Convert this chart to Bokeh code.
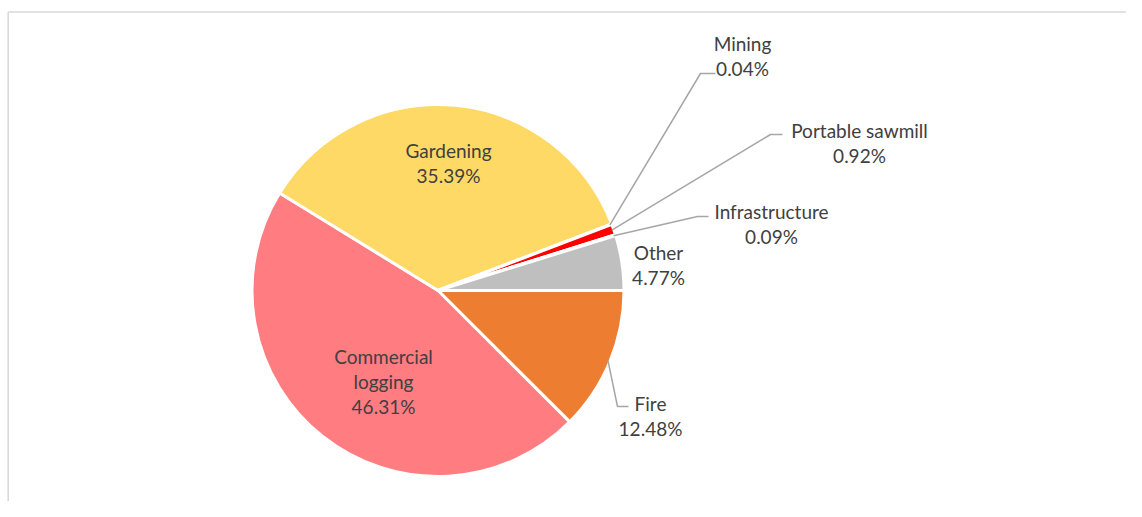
import math
from bokeh.plotting import figure
from bokeh.models import Range1d, ColumnDataSource
from bokeh.core.properties import value
from bokeh.embed import file_html
from bokeh.resources import INLINE

# ---- data (clockwise from 3 o'clock) ----
categories = ["Fire", "Commercial logging", "Gardening", "Mining",
              "Portable sawmill", "Infrastructure", "Other"]
shares = [12.48, 46.31, 35.39, 0.04, 0.92, 0.09, 4.77]
colors = ["#ED7D31", "#FF7C80", "#FFD966", "#5B9BD5", "#FF0000", "#70AD47", "#BFBFBF"]
label_lines = [["Fire"], ["Commercial", "logging"], ["Gardening"], ["Mining"],
               ["Portable sawmill"], ["Infrastructure"], ["Other"]]

W, H = 1126, 501
FONT = "Lato"
FS = "19px"
TXT = "#404040"
LEADER = "#A6A6A6"

def px(X):   # image x -> data x
    return X

def py(Y):   # image y -> data y
    return H - Y

p = figure(width=W, height=H, output_backend="svg", toolbar_location=None,
           x_range=Range1d(0, W), y_range=Range1d(0, H), min_border=0,
           x_axis_location=None, y_axis_location=None)
p.grid.visible = False
p.outline_line_color = None
p.background_fill_color = "white"
p.border_fill_color = "white"

# chart-area border (top and left edges visible)
p.line(x=[7.7, 7.7], y=[py(11.5), -5], line_color="#D9D9D9", line_width=1.6)
p.line(x=[7.7, W + 5], y=[py(11.5), py(11.5)], line_color="#D9D9D9", line_width=1.6)

# ---- pie ----
cx, cy, r = px(437.5), py(290), 186
total = sum(shares)
starts, ends = [], []
acc = 0.0
for s in shares:
    starts.append(-2 * math.pi * acc / total)
    acc += s
    ends.append(-2 * math.pi * acc / total)
src = ColumnDataSource(dict(start=starts, end=ends, color=colors, cat=categories))
p.wedge(x=cx, y=cy, radius=r, start_angle="start", end_angle="end",
        direction="clock", fill_color="color", line_color="white",
        line_width=3, source=src)

mids = [(a + b) / 2 for a, b in zip(starts, ends)]

# ---- labels: (image x center, image y of first line center) ----
label_pos = {
    "Fire": (650, 403),
    "Commercial logging": (383, 356),
    "Gardening": (448, 150),
    "Mining": (742, 43),
    "Portable sawmill": (859, 130),
    "Infrastructure": (771, 211),
    "Other": (658, 252),
}
step = 25
tx, ty, tt = [], [], []
for cat, s, lines in zip(categories, shares, label_lines):
    X, Y = label_pos[cat]
    allines = lines + ["%.2f%%" % s]
    for i, t in enumerate(allines):
        tx.append(px(X))
        ty.append(py(Y + i * step))
        tt.append(t)
p.text(x=tx, y=ty, text=tt, text_font=value(FONT), text_font_size=FS,
       text_color=TXT, text_align="center", text_baseline="middle")

# ---- leader lines: from slice edge -> elbow -> end ----
leader_pts = {
    "Mining": ((700, 73), (715, 73)),
    "Portable sawmill": ((770, 134), (782, 134)),
    "Infrastructure": ((697, 216), (708, 216)),
    "Fire": ((617, 406), (628, 406)),
}
for cat, m in zip(categories, mids):
    if cat in leader_pts:
        (ex, ey), (fx, fy) = leader_pts[cat]
        sx = cx + (r - 2) * math.cos(m)
        sy = cy + (r - 2) * math.sin(m)
        p.line(x=[sx, px(ex), px(fx)], y=[sy, py(ey), py(fy)],
               line_color=LEADER, line_width=1.5)

open("out.html", "w").write(file_html(p, INLINE))
